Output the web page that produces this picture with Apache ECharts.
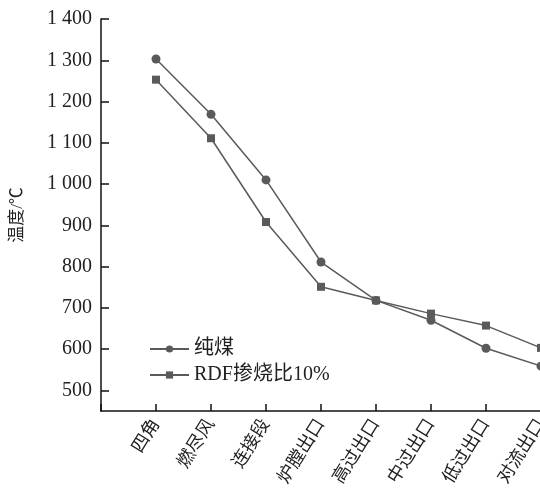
<!DOCTYPE html>
<html>
<head>
<meta charset="utf-8">
<script src="https://cdn.jsdelivr.net/npm/echarts@6/dist/echarts.min.js"></script>
<style>
  html, body { margin: 0; padding: 0; background: #ffffff; }
  #chart { width: 540px; height: 498px; }
</style>
</head>
<body>
<div id="chart"></div>
<script>
// Measurement locations along the flue gas path
const categories = ['四角', '燃尽风', '连接段', '炉膛出口', '高过出口', '中过出口', '低过出口', '对流出口'];
// Temperature, °C
const pureCoal = [1303, 1169, 1010, 811, 718, 670, 602, 559];
const rdfBlend = [1253, 1111, 908, 751, 718, 686, 657, 603];
const yTicks = [500, 600, 700, 800, 900, 1000, 1100, 1200, 1300, 1400];

const seriesNames = ['纯煤', 'RDF掺烧比10%'];
const lineColor = '#5a5a5a';
const font = '"Liberation Serif", "Noto Sans CJK SC", serif';

// A blank leading slot leaves one step of space between the y axis and the first point
const axisCats = [''].concat(categories);
const pad = arr => [null].concat(arr);

const fmt = v => v >= 1000 ? Math.floor(v / 1000) + ' ' + String(v % 1000).padStart(3, '0') : String(v);

const chart = echarts.init(document.getElementById('chart'), null, { renderer: 'canvas' });
chart.setOption({
  backgroundColor: '#ffffff',
  animation: false,
  grid: { left: 101, right: -1, top: 19, bottom: 87, outerBoundsMode: 'none', containLabel: false },
  legend: {
    orient: 'vertical',
    left: 144,
    top: 334,
    itemWidth: 39,
    itemHeight: 9,
    itemGap: 6,
    textStyle: { fontFamily: font, fontSize: 20, color: '#222' },
    data: seriesNames
  },
  xAxis: {
    type: 'category',
    data: axisCats,
    boundaryGap: false,
    axisLine: { lineStyle: { color: '#111', width: 1.5 } },
    axisTick: { inside: true, length: 7, lineStyle: { color: '#111', width: 1.5 } },
    axisLabel: {
      rotate: 58,
      margin: 10,
      fontFamily: font,
      fontSize: 18,
      color: '#222',
      interval: 0
    },
    splitLine: { show: false }
  },
  yAxis: {
    type: 'value',
    min: 450,
    max: 1400,
    name: '温度/℃',
    nameLocation: 'middle',
    nameGap: 75,
    nameRotate: 90,
    nameTextStyle: { fontFamily: font, fontSize: 17, color: '#222' },
    axisLine: { show: true, lineStyle: { color: '#111', width: 1.5 } },
    axisTick: { show: true, inside: true, length: 8, customValues: yTicks, lineStyle: { color: '#111', width: 1.5 } },
    axisLabel: { customValues: yTicks, formatter: fmt, fontFamily: font, fontSize: 20, color: '#222', margin: 9 },
    splitLine: { show: false }
  },
  series: [
    {
      name: seriesNames[0],
      type: 'line',
      data: pad(pureCoal),
      symbol: 'circle',
      symbolSize: 9,
      itemStyle: { color: lineColor },
      lineStyle: { color: lineColor, width: 1.5 },
      clip: false
    },
    {
      name: seriesNames[1],
      type: 'line',
      data: pad(rdfBlend),
      symbol: 'rect',
      symbolSize: 8,
      itemStyle: { color: lineColor },
      lineStyle: { color: lineColor, width: 1.5 },
      clip: false
    }
  ]
});
</script>
</body>
</html>
